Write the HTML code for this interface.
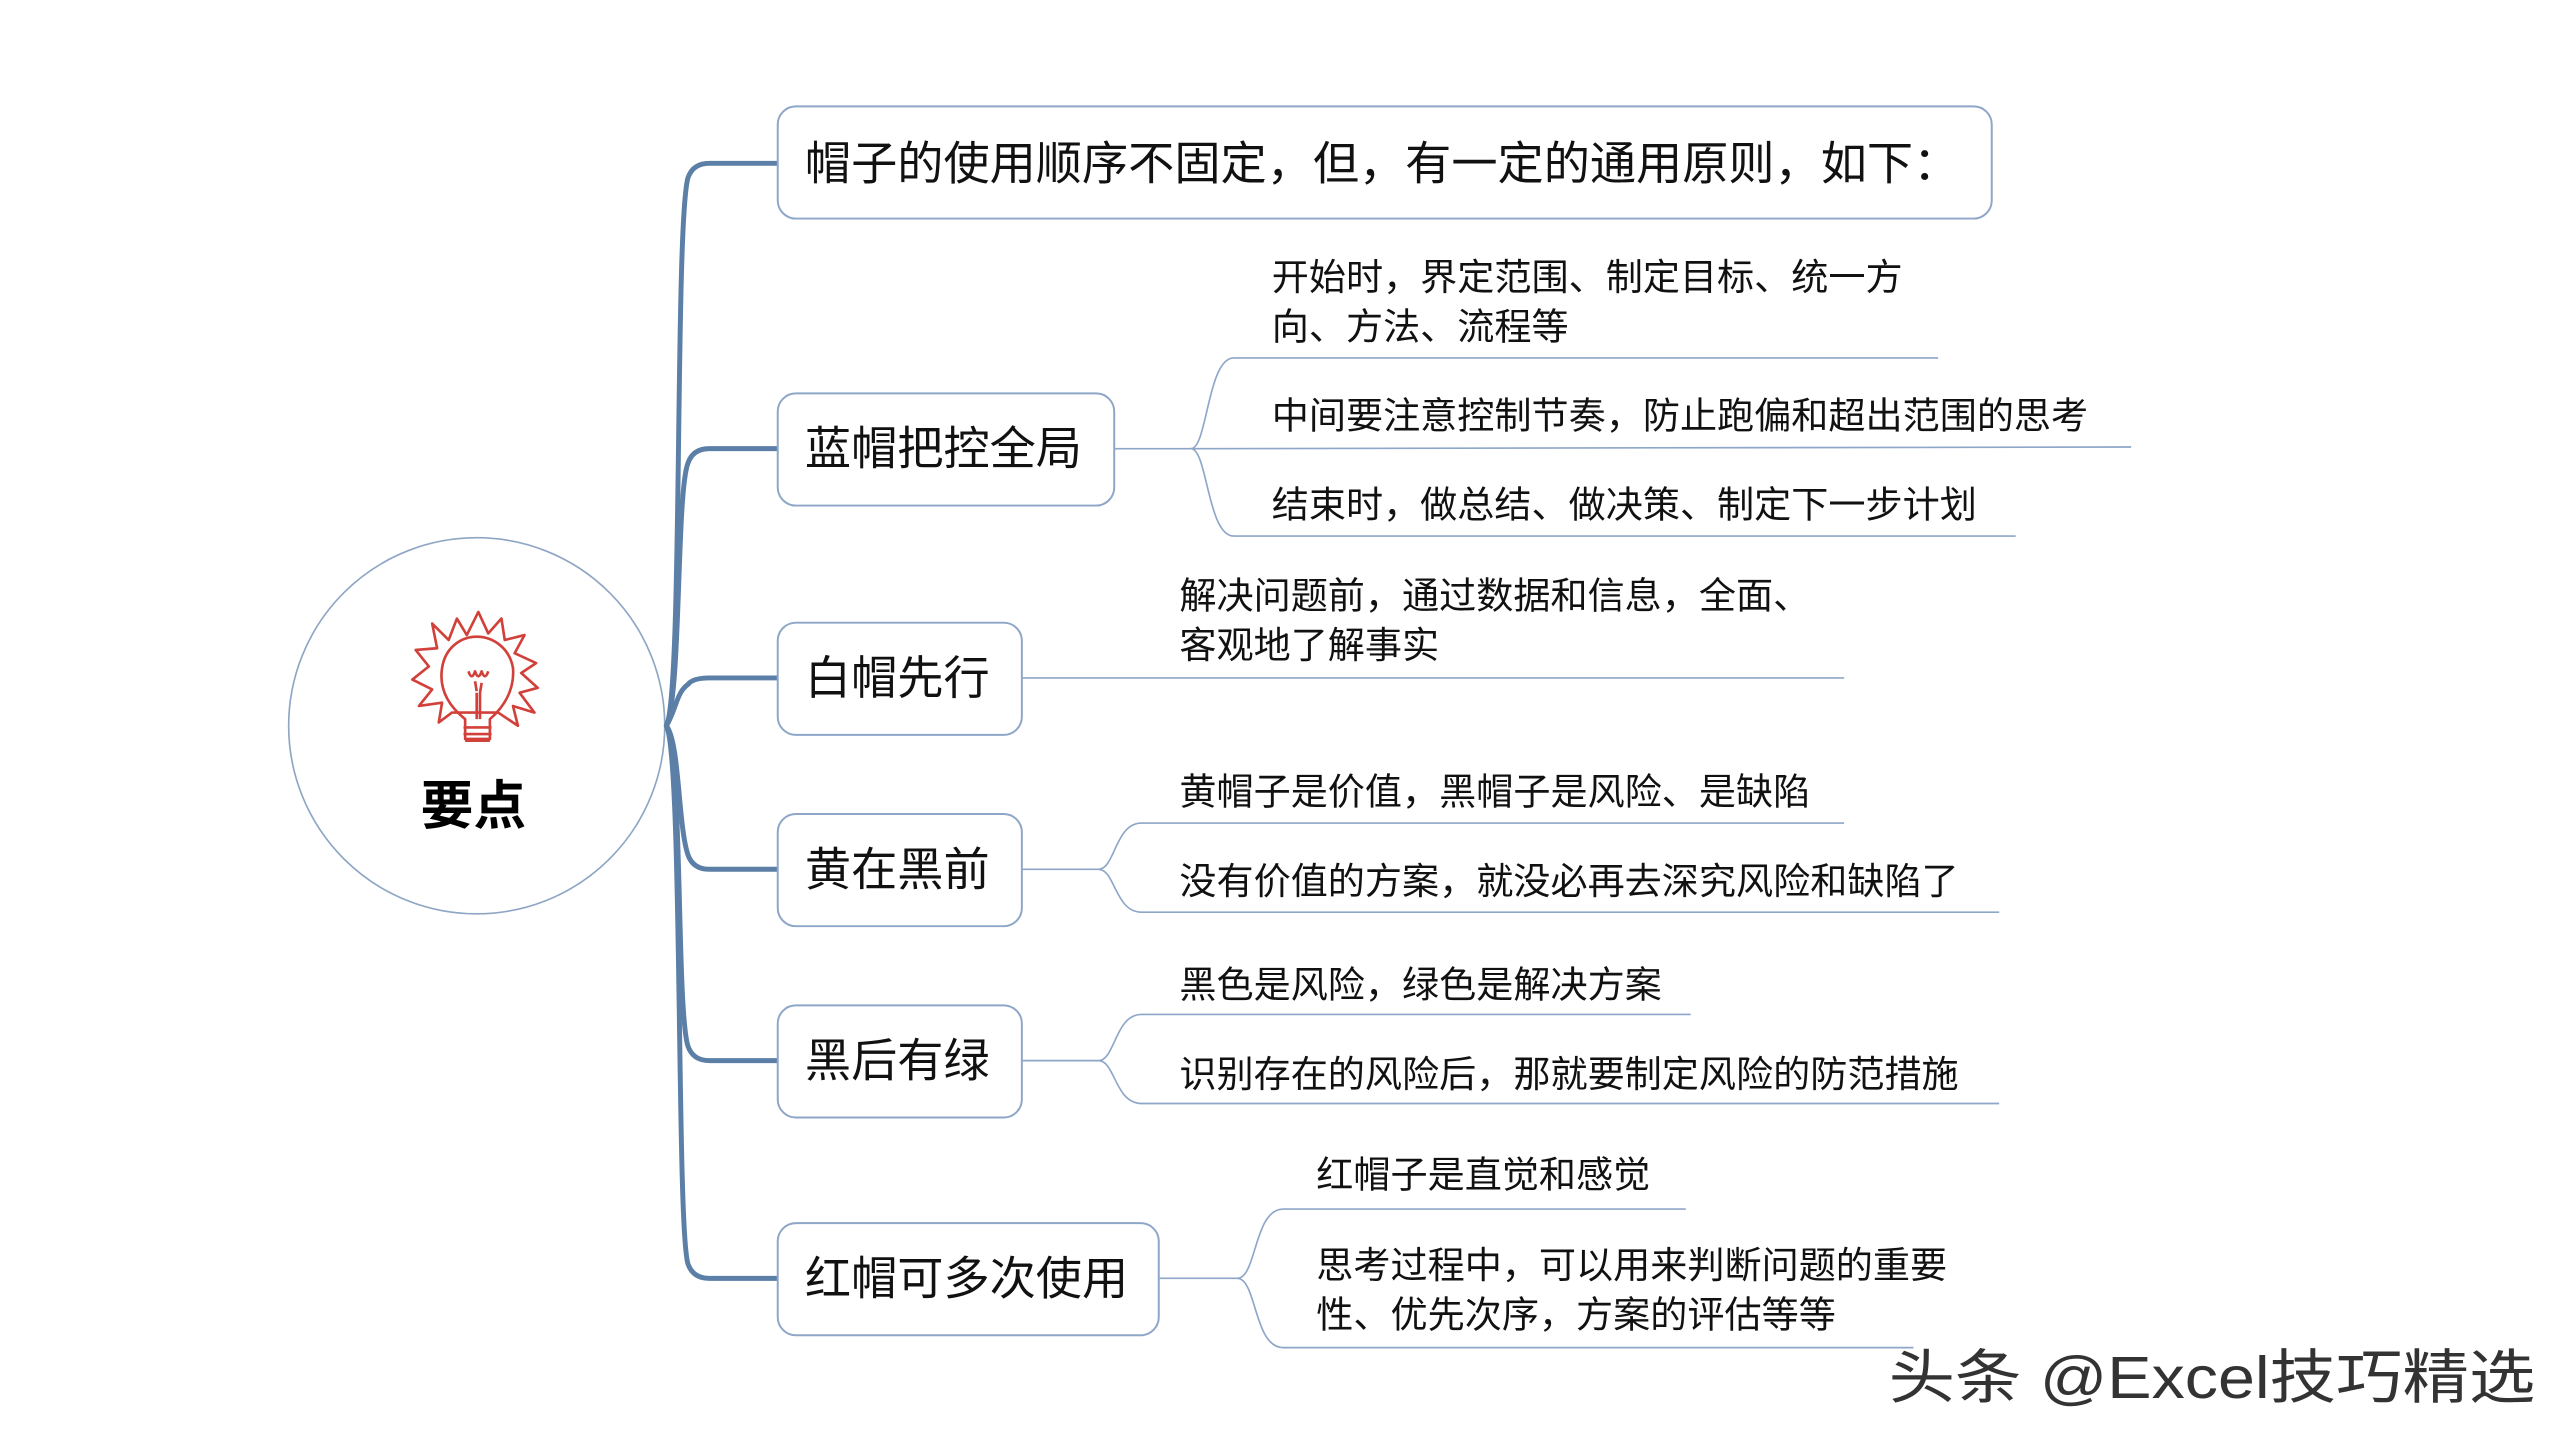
<!DOCTYPE html>
<html><head><meta charset="utf-8"><style>
html,body{margin:0;padding:0;background:#fff;width:2560px;height:1440px;overflow:hidden}
svg{display:block}
text{font-family:"Liberation Sans","Noto Sans CJK SC",sans-serif;fill:#111}
</style></head><body>
<svg width="2560" height="1440" viewBox="0 0 1552 873" preserveAspectRatio="none" xmlns="http://www.w3.org/2000/svg">
<circle cx="289" cy="440" r="114" fill="#fff" stroke="#8ea6c4" stroke-width="1"/>
<g fill="none" stroke="#d2403a" stroke-width="1.6" stroke-linejoin="round">
<polygon points="262,378 272,388 277,375 283,385 290,371 296,384 304,375 306,388 318,385 312,396 325,402 316,408 326,417 315,420 324,432 311,428 314,440 302,432 286,432 274,432 266,438 268,426 254,428 262,418 250,412 260,404 252,394 265,393"/>
<path d="M282,448 L282,436 C272,428 266,418 268,405 C270,392 280,386 289,386 C299,386 309,393 311,405 C312,418 306,428 297,436 L297,448 Z"/>
<path d="M281,441 h17 M281,445 h17 M282,449 h15"/>
<path d="M284,407 q2,6 4,0 q2,6 4,0 q2,6 4,0 M288,413 l1,6 M292,414 l-1,6 M289,420 l0,16 M291,420 l0,16"/>
</g>
<text x="287" y="489" font-size="32" font-weight="bold" text-anchor="middle" dominant-baseline="central" style="fill:#000">要点</text>

<g fill="none" stroke="#5b7fa6" stroke-width="3" stroke-linecap="round">
<path d="M404,440 C414,420 409,140 417,108 Q420,99 430,99 L471,99"/>
<path d="M404,440 C413,420 410,300 417,281 Q420,272 430,272 L471,272"/>
<path d="M404,440 C410,430 410,420 417,415 Q420,411 430,411 L471,411"/>
<path d="M404,440 C412,450 411,500 417,518 Q420,527 430,527 L471,527"/>
<path d="M404,440 C414,460 410,610 417,634 Q420,643 430,643 L471,643"/>
<path d="M404,440 C414,460 410,740 417,766 Q420,775 430,775 L471,775"/>
</g>

<g fill="#fff" stroke="#8ea6c8" stroke-width="1.2">
<rect x="471.5" y="64.5" width="736" height="68" rx="11"/>
<rect x="471.5" y="238.5" width="204" height="68" rx="11"/>
<rect x="471.5" y="377.5" width="148" height="68" rx="11"/>
<rect x="471.5" y="493.5" width="148" height="68" rx="11"/>
<rect x="471.5" y="609.5" width="148" height="68" rx="11"/>
<rect x="471.5" y="741.5" width="231" height="68" rx="11"/>
</g>
<g font-size="28" dominant-baseline="central">
<text x="488" y="99">帽子的使用顺序不固定，但，有一定的通用原则，如下：</text>
<text x="488" y="272">蓝帽把控全局</text>
<text x="488" y="411">白帽先行</text>
<text x="488" y="527">黄在黑前</text>
<text x="488" y="643">黑后有绿</text>
<text x="488" y="775">红帽可多次使用</text>
</g>

<g fill="none" stroke="#8ea6c8" stroke-width="1">
<path d="M676,272 L722,272 C732,272 732,217 748,217 L1175,217"/>
<path d="M722,272 L1292,271"/>
<path d="M722,272 C732,272 732,325 748,325 L1222,325"/>
<path d="M620,411 L1118,411"/>
<path d="M620,527 L666,527 C676,527 676,499 692,499 L1118,499"/>
<path d="M666,527 C676,527 676,553 692,553 L1212,553"/>
<path d="M620,643 L666,643 C676,643 676,615 692,615 L1025,615"/>
<path d="M666,643 C676,643 676,669 692,669 L1212,669"/>
<path d="M703,775 L750,775 C762,775 760,733 778,733 L1022,733"/>
<path d="M750,775 C762,775 760,817 778,817 L1160,817"/>
</g>
<g font-size="22.5" dominant-baseline="central">
<text x="771" y="168">开始时，界定范围、制定目标、统一方</text>
<text x="771" y="198">向、方法、流程等</text>
<text x="771" y="252">中间要注意控制节奏，防止跑偏和超出范围的思考</text>
<text x="771" y="306">结束时，做总结、做决策、制定下一步计划</text>
<text x="715" y="361">解决问题前，通过数据和信息，全面、</text>
<text x="715" y="391">客观地了解事实</text>
<text x="715" y="480">黄帽子是价值，黑帽子是风险、是缺陷</text>
<text x="715" y="534">没有价值的方案，就没必再去深究风险和缺陷了</text>
<text x="715" y="597">黑色是风险，绿色是解决方案</text>
<text x="715" y="651">识别存在的风险后，那就要制定风险的防范措施</text>
<text x="798" y="712">红帽子是直觉和感觉</text>
<text x="798" y="767">思考过程中，可以用来判断问题的重要</text>
<text x="798" y="797">性、优先次序，方案的评估等等</text>
</g>
<text x="1145" y="835" font-size="36" dominant-baseline="central" textLength="392" lengthAdjust="spacingAndGlyphs" style="fill:#333;stroke:#fff;stroke-width:0.6;paint-order:stroke">头条 @Excel技巧精选</text>
</svg>
</body></html>
